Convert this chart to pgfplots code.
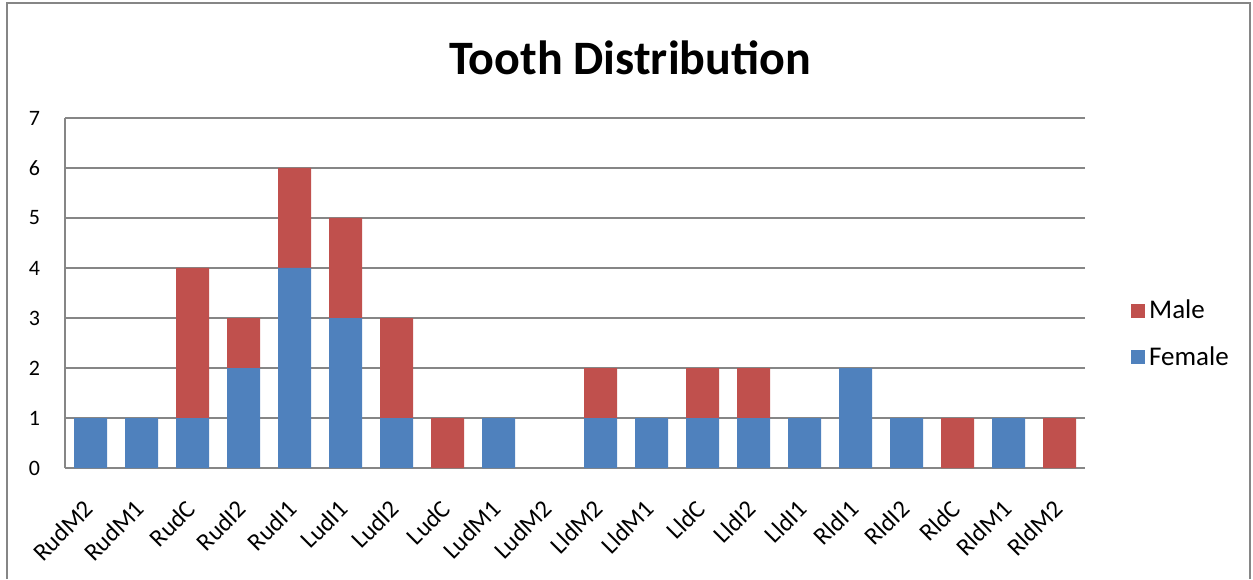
\documentclass[border=0pt]{standalone}
\usepackage{pgfplots}
\pgfplotsset{compat=1.18}
\usepackage{fontspec}
\setmainfont{Carlito}
\definecolor{fblue}{HTML}{4F81BD}
\definecolor{mred}{HTML}{C0504D}
\definecolor{gridg}{HTML}{868686}
\begin{document}
\begin{tikzpicture}[x=1pt,y=1pt]
\useasboundingbox (0,0) rectangle (626.5,289.5);
\draw[gridg,line width=0.8pt] (3.5,0) -- (3.5,288) -- (625,288) -- (625,0);
\node[font=\bfseries\fontsize{24}{28}\selectfont] at (315,260.5) {Tooth Distribution};
\begin{axis}[
  at={(32.5pt,55.5pt)}, anchor=south west,
  scale only axis, width=510pt, height=175pt,
  ybar stacked, bar width=16.5pt,
  xmin=-0.5, xmax=19.5, ymin=0, ymax=7,
  xtick={0,...,19},
  xticklabels={RudM2,RudM1,RudC,RudI2,RudI1,LudI1,LudI2,LudC,LudM1,LudM2,LldM2,LldM1,LldC,LldI2,LldI1,RldI1,RldI2,RldC,RldM1,RldM2},
  x tick label style={rotate=45, anchor=north east, font=\fontsize{12.4}{14}\selectfont, inner sep=0pt, yshift=-7.9pt, xshift=-13.4pt},
  ytick={0,...,7},
  y tick label style={font=\fontsize{11}{12}\selectfont, xshift=-9pt},
  /pgf/number format/assume math mode=true,
  ymajorgrids, grid style={gridg, line width=0.7pt},
  axis x line*=bottom, axis y line*=left,
  axis line style={gridg, line width=0.8pt},
  major tick length=0pt,
  tick align=outside,
  legend style={at={(1.039,0.383)}, anchor=west, draw=none, fill=none,
    font=\fontsize{13.5}{15}\selectfont, row sep=8.5pt, legend cell align=left},
  legend image code/.code={\fill[#1] (0pt,-3.5pt) rectangle (7pt,3.5pt);},
  reverse legend,
]
\addplot[fill=fblue, draw=none] coordinates {(0,1)(1,1)(2,1)(3,2)(4,4)(5,3)(6,1)(7,0)(8,1)(9,0)(10,1)(11,1)(12,1)(13,1)(14,1)(15,2)(16,1)(17,0)(18,1)(19,0)};
\addplot[fill=mred, draw=none] coordinates {(0,0)(1,0)(2,3)(3,1)(4,2)(5,2)(6,2)(7,1)(8,0)(9,0)(10,1)(11,0)(12,1)(13,1)(14,0)(15,0)(16,0)(17,1)(18,0)(19,1)};
\legend{Female,Male}
\end{axis}
\end{tikzpicture}
\end{document}
